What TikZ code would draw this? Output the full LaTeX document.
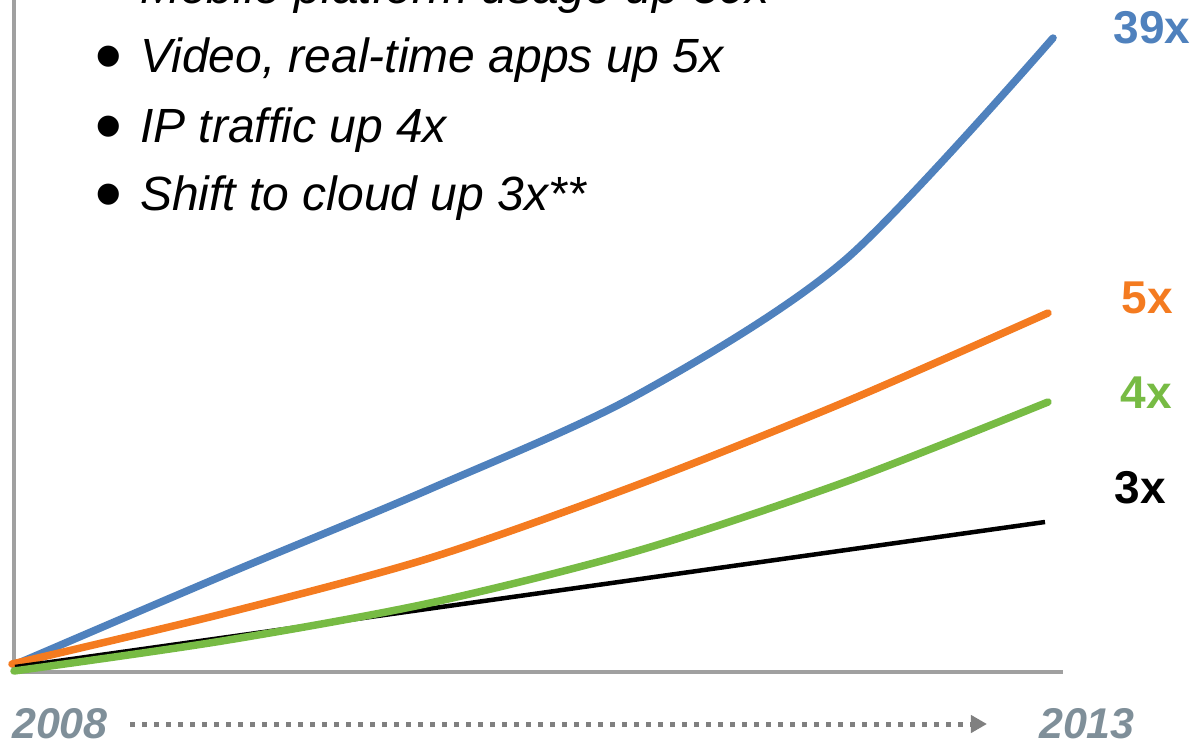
\documentclass[tikz,border=0pt]{standalone}
\usepackage{fontspec}
\setmainfont{Liberation Sans}
\usetikzlibrary{arrows.meta}
\definecolor{cblue}{HTML}{4F81BD}
\definecolor{corange}{HTML}{F47B20}
\definecolor{cgreen}{HTML}{77BB44}
\definecolor{caxis}{HTML}{A0A0A0}
\definecolor{cyear}{HTML}{7F8F99}
\definecolor{cdots}{HTML}{808080}
\newcommand{\itembullet}{\llap{\raisebox{-10pt}{\fontsize{78}{80}\selectfont\textbullet}\hspace{18.35pt}}}
\begin{document}
\begin{tikzpicture}[x=1pt,y=-1pt,
  itemtext/.style={anchor=base west, inner sep=0pt, font=\fontsize{48}{56}\selectfont\itshape},
  growthlabel/.style={anchor=center, inner sep=0pt, font=\fontsize{46}{54}\selectfont\bfseries},
  yearlabel/.style={anchor=center, inner sep=0pt, text=cyear, font=\fontsize{43}{50}\selectfont\bfseries\itshape},
  axisline/.style={draw=caxis, line width=3.5pt},
  series/.style={line width=7.5pt, line cap=round, line join=round},
  dotarrow/.style={draw=cdots, line width=5pt, dash pattern=on 4.5pt off 7.5pt, -{Triangle[length=16pt,width=17pt]}}
]
\useasboundingbox (0,0) rectangle (1194,747);
\begin{scope}
\clip (0,0) rectangle (1194,747);
% axes
\draw[axisline] (14,0) -- (14,674);
\draw[axisline] (12.25,672) -- (1063,672);
% series
\draw[series, draw=cblue] plot[smooth, tension=0.5] coordinates {(14,665) (222,576) (430,489) (637,395) (845,260) (1053,38)};
\draw[series, draw=corange] plot[smooth, tension=0.5] coordinates {(12,664) (222,614) (430,558) (637,485) (845,402) (1048,313)};
\draw[line width=4.5pt, draw=black] (15,667) -- (1045,522);
\draw[series, draw=cgreen] plot[smooth, tension=0.5] coordinates {(14,671) (222,641) (430,603) (637,551) (845,482) (1048,402)};
% bullet list
\node[itemtext] (t1) at (140,3.7) {\itembullet Mobile platform usage up 39x};
\node[itemtext] (t2) at (140,72.7) {\itembullet Video, real-time apps up 5x};
\node[itemtext] (t3) at (140,142) {\itembullet IP traffic up 4x};
\node[itemtext] (t4) at (140,210.5) {\itembullet Shift to cloud up 3x**};
% growth labels
\node[growthlabel, text=cblue] (l39) at (1152,28) {39x};
\node[growthlabel, text=corange] (l5) at (1147,298) {5x};
\node[growthlabel, text=cgreen] (l4) at (1146,393) {4x};
\node[growthlabel, text=black] (l3) at (1140,488) {3x};
% years
\node[yearlabel] (y2008) at (60,724) {2008};
\node[yearlabel] (y2013) at (1087,724) {2013};
\draw[dotarrow, shorten <=22pt, shorten >=52pt] (y2008.east) -- (y2013.west);
\end{scope}
\end{tikzpicture}
\end{document}
